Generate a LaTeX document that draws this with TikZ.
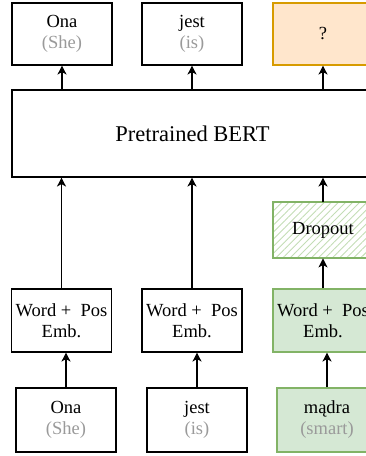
\documentclass[tikz,border=0pt]{standalone}
\usepackage{fontspec}
\setmainfont{Liberation Serif}
\usetikzlibrary{arrows.meta,patterns.meta}

\definecolor{ansfill}{HTML}{FFE6CC}
\definecolor{ansline}{HTML}{D79B00}
\definecolor{grnfill}{HTML}{D5E8D4}
\definecolor{grnline}{HTML}{82B366}
\definecolor{hatchgrn}{HTML}{C3DDB5}
\definecolor{glossgray}{HTML}{9A9A9A}

\tikzset{
    blk/.style={draw, line width=1.1pt, minimum width=100pt, minimum height=62pt,
        inner sep=0pt, align=center, font=\fontsize{18.5}{21}\selectfont},
    greenblk/.style={blk, draw=grnline, fill=grnfill},
    arr/.style={-{Stealth[length=9pt,width=9pt,inset=2.5pt]}, line width=1.1pt}
}
\newcommand{\gloss}[1]{{\color{glossgray}(#1)}}

\begin{document}
\begin{tikzpicture}[x=1pt,y=1pt]
\useasboundingbox (0,0) rectangle (366,456);
\clip (0,0) rectangle (366,456);

% outputs
\node[blk] (out1) at (62,422) {Ona\\\gloss{She}};
\node[blk] (out2) at (192,422) {jest\\\gloss{is}};
\node[blk, draw=ansline, fill=ansfill] (out3) at (323,422) {?};

\node[blk, minimum width=361pt, minimum height=87pt, font=\fontsize{22.5}{26}\selectfont]
    (bert) at (192.5,322.5) {Pretrained BERT};

\node[blk, draw=grnline, minimum height=56pt,
    pattern={Lines[angle=45,distance=5pt,line width=0.9pt]}, pattern color=hatchgrn]
    (drop) at (323,226) {};
\node[font=\fontsize{18.5}{21}\selectfont] (droptxt) at (drop) {Dropout};

% embeddings
\node[blk, minimum height=63pt] (emb1) at (61.5,135.5) {Word +\ \ Pos\\Emb.};
\node[blk, minimum height=63pt] (emb2) at (192,135.5) {Word +\ \ Pos\\Emb.};
\node[greenblk, minimum height=63pt] (emb3) at (323,135.5) {Word +\ \ Pos\\Emb.};

% inputs
\node[blk, minimum height=64pt] (in1) at (66,36) {Ona\\\gloss{She}};
\node[blk, minimum height=64pt] (in2) at (197,36) {jest\\\gloss{is}};
\node[greenblk, minimum height=64pt] (in3) at (327,36) {mądra\\\gloss{smart}};

\draw[arr] (in1.north) -- (in1.north |- emb1.south);
\draw[arr] (in2.north) -- (in2.north |- emb2.south);
\draw[arr] (in3.north) -- (in3.north |- emb3.south);

\draw[arr] (emb1.north) -- (emb1.north |- bert.south);
\draw[arr] (emb2.north) -- (emb2.north |- bert.south);
\draw[arr] (emb3.north) -- (emb3.north |- drop.south);
\draw[arr] (drop.north) -- (drop.north |- bert.south);

\draw[arr] (out1.south |- bert.north) -- (out1.south);
\draw[arr] (out2.south |- bert.north) -- (out2.south);
\draw[arr] (out3.south |- bert.north) -- (out3.south);

\end{tikzpicture}
\end{document}
